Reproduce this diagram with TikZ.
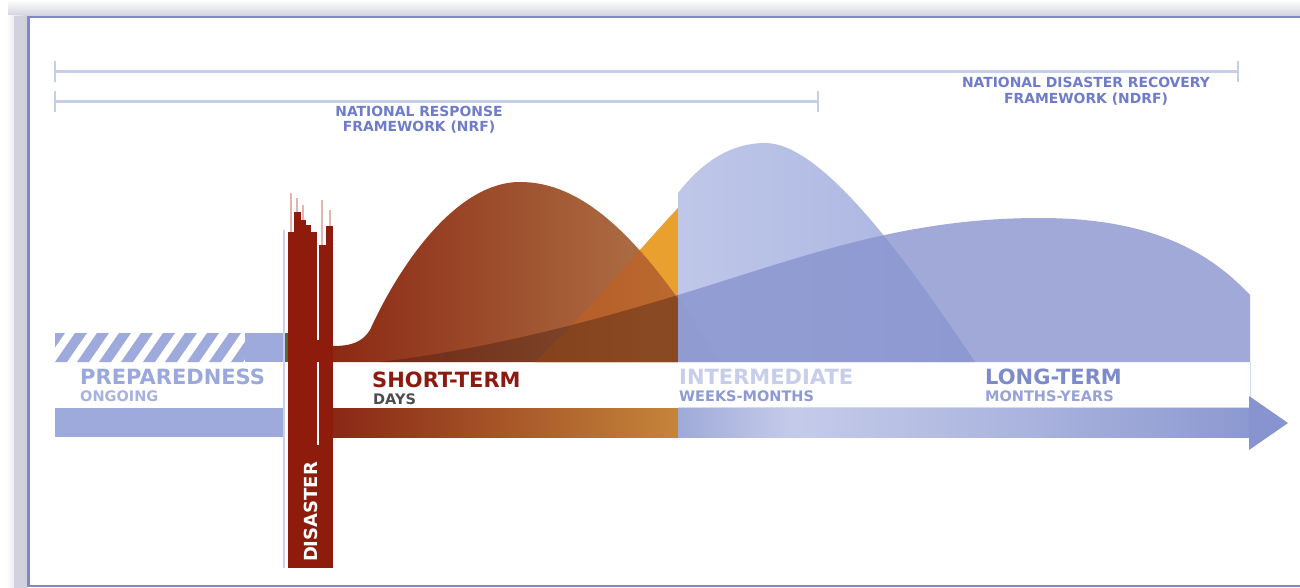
\documentclass[tikz,border=0pt]{standalone}
\usepackage{fontspec}
\setmainfont{DejaVu Sans}
\definecolor{shadowC}{HTML}{D2D2DE}
\definecolor{borderC}{HTML}{8088C8}
\definecolor{brC}{HTML}{C7CEEA}
\definecolor{hdrC}{HTML}{6E7CC9}
\definecolor{prepC}{HTML}{9EAADB}
\definecolor{barC}{HTML}{8E1B0B}
\definecolor{wispC}{HTML}{E6B4AC}
\definecolor{redL}{HTML}{8C2914}
\definecolor{redR}{HTML}{B47E4E}
\definecolor{orangeC}{HTML}{E9A02E}
\definecolor{orangeOv}{HTML}{C8601A}
\definecolor{brownOv}{HTML}{3A1A10}
\definecolor{shaftL}{HTML}{8A2816}
\definecolor{shaftR}{HTML}{C5853A}
\definecolor{intL}{HTML}{BFC7E9}
\definecolor{intR}{HTML}{A8B2DF}
\definecolor{ltC}{RGB}{135,147,206}
\definecolor{blueOv}{HTML}{5A6AB0}
\definecolor{bsA}{HTML}{A0AAD8}
\definecolor{bsB}{HTML}{C4CBEA}
\definecolor{bsM}{HTML}{ABB4DE}
\definecolor{bsC}{HTML}{8C99D1}
\definecolor{headC}{HTML}{8794CF}
\definecolor{bandLine}{HTML}{D5DAF0}
\definecolor{vlineC}{HTML}{C9D1EF}
\definecolor{greenC}{HTML}{506C3A}
\definecolor{prepTxt}{HTML}{9AA8DC}
\definecolor{ongTxt}{HTML}{A7B2E0}
\definecolor{stTxt}{HTML}{8B1A10}
\definecolor{daysTxt}{HTML}{4D4D4D}
\definecolor{intTxt}{HTML}{C7CDEA}
\definecolor{wmTxt}{HTML}{8D9AD3}
\definecolor{ltTxt}{HTML}{7D8BCB}
\definecolor{myTxt}{HTML}{97A3D8}
\pgfdeclarehorizontalshading{blueshaft}{100bp}{color(0bp)=(bsA); color(25bp)=(bsA); color(35bp)=(bsB); color(55bp)=(bsM); color(75bp)=(bsC); color(100bp)=(bsC)}
\tikzset{
  bigtxt/.style={font=\fontsize{21}{23}\selectfont\bfseries, inner sep=0pt, anchor=base west},
  smalltxt/.style={font=\fontsize{14.5}{16}\selectfont\bfseries, inner sep=0pt, anchor=base west},
  hdrtxt/.style={font=\fontsize{13.9}{15}\selectfont\bfseries, inner sep=0pt, anchor=base, text=hdrC},
  bracket/.style={draw=brC, line width=3pt},
  tickmark/.style={draw=brC, line width=1.6pt},
}
\begin{document}
\begin{tikzpicture}[x=1pt,y=-1pt]
\useasboundingbox (0,0) rectangle (1300,588);
\fill[white] (0,0) rectangle (1300,588);
% frame shadow and border
\shade[top color=white, bottom color=shadowC] (8,0) rectangle (1300,16);
\shade[left color=white, right color=shadowC] (6,16) rectangle (27,588);
\fill[shadowC] (14,16) rectangle (27,588);
\draw[borderC, line width=2.5pt] (1300,17) -- (28.5,17) -- (28.5,586) -- (1300,586);

% top brackets
\coordinate (ndrfL) at (55,72);
\coordinate (ndrfR) at (1238,72);
\coordinate (nrfL) at (55,102);
\coordinate (nrfR) at (818,102);
\draw[bracket] (ndrfL) -- (ndrfR);
\draw[bracket] (nrfL) -- (nrfR);
\draw[tickmark] ([yshift=-10pt]ndrfL) -- ([yshift=11pt]ndrfL);
\draw[tickmark] ([yshift=-10pt]ndrfR) -- ([yshift=11pt]ndrfR);
\draw[tickmark] ([yshift=-10pt]nrfL) -- ([yshift=11pt]nrfL);
\draw[tickmark] ([yshift=-10pt]nrfR) -- ([yshift=11pt]nrfR);
\node[hdrtxt] (nrf1) at (419,117) {NATIONAL RESPONSE};
\node[hdrtxt] (nrf2) at (419,132) {FRAMEWORK (NRF)};
\node[hdrtxt] (ndrf1) at (1086,88) {NATIONAL DISASTER RECOVERY};
\node[hdrtxt] (ndrf2) at (1086,104) {FRAMEWORK (NDRF)};

% preparedness stripe (hatched + solid)
\begin{scope}
  \clip (55,333) rectangle (245,362);
  \foreach \i in {-2,...,9} {
    \fill[prepC] ({55+22*\i},362) -- ({67+22*\i},362) -- ({87+22*\i},333) -- ({75+22*\i},333) -- cycle;
  }
\end{scope}
\fill[prepC] (245,333) rectangle (283,362);
\fill[greenC] (285,333) rectangle (288,362);
\fill[prepC] (55,408) rectangle (283,437);

% short-term (brown) region
\begin{scope}
  \clip (333,140) rectangle (678,362);
  \fill[orangeC] (535,362) .. controls (600,300) and (650,235) .. (700,185) -- (700,362) -- cycle;
  \shade[left color=redL, right color=redR]
    (333,362) -- (333,346) .. controls (352,346) and (362,342) .. (370,330)
    .. controls (398,268) and (455,182) .. (520,182)
    .. controls (590,182) and (650,250) .. (720,362) -- cycle;
  \begin{scope}
    \clip (535,362) .. controls (600,300) and (650,235) .. (700,185) -- (700,362) -- cycle;
    \fill[orangeOv, opacity=0.5]
      (333,362) -- (333,346) .. controls (352,346) and (362,342) .. (370,330)
      .. controls (398,268) and (455,182) .. (520,182)
      .. controls (590,182) and (650,250) .. (720,362) -- cycle;
  \end{scope}
  \fill[brownOv, opacity=0.38]
    (380,362) .. controls (480,350) and (580,325) .. (678,295)
    .. controls (800,258) and (900,218) .. (1040,218) -- (1040,362) -- cycle;
\end{scope}
\shade[left color=shaftL, right color=shaftR] (333,408) rectangle (678,437);

% intermediate / long-term (blue) region
\begin{scope}
  \clip (678,100) rectangle (1260,362);
  \shade[left color=intL, right color=intR]
    (678,362) -- (678,193) .. controls (705,158) and (735,143) .. (765,143)
    .. controls (820,143) and (900,250) .. (975,362) -- cycle;
  \fill[blueOv, opacity=0.1]
    (600,362) -- (600,200) .. controls (650,250) .. (720,362) -- cycle;
  \fill[ltC, opacity=0.79]
    (380,362) .. controls (480,350) and (580,325) .. (678,295)
    .. controls (800,258) and (900,218) .. (1040,218)
    .. controls (1160,218) and (1215,258) .. (1250,295) -- (1250,362) -- cycle;
\end{scope}
\draw[bandLine, line width=1pt] (678,407) -- (1250,407) -- (1250,362);
\shade[shading=blueshaft] (678,408) rectangle (1250,437);
\fill[headC] (1249,396) -- (1288,423) -- (1249,450) -- cycle;

% disaster bar
\draw[vlineC, line width=2pt] (283.5,230) -- (283.5,568);
\fill[barC] (288,250) rectangle (333,568);
\fill[barC] (288,232) rectangle (294,260);
\fill[barC] (294,212) rectangle (301,260);
\fill[barC] (301,220) rectangle (306,260);
\fill[barC] (306,225) rectangle (311,260);
\fill[barC] (311,232) rectangle (317,260);
\fill[barC] (319,245) rectangle (326,260);
\fill[barC] (326,226) rectangle (333,260);
\draw[wispC, line width=1.3pt] (291,193) -- (291,232);
\draw[wispC, line width=1.3pt] (303,205) -- (303,220);
\draw[wispC, line width=1.3pt] (322,200) -- (322,245);
\draw[wispC, line width=1.3pt] (330,210) -- (330,226);
\draw[wispC, line width=1.3pt] (297,198) -- (297,212);
\draw[white, line width=1.6pt] (318,240) -- (318,340);
\draw[white, line width=1.6pt] (318,362) -- (318,445);
\node[font=\fontsize{18}{19}\selectfont\bfseries, text=white, rotate=90, inner sep=0pt] (disaster) at (311,512) {DISASTER};

% labels
\node[bigtxt, text=prepTxt] (prep) at (80,384) {PREPAREDNESS};
\node[smalltxt, text=ongTxt] (ong) at (80,401) {ONGOING};
\node[bigtxt, text=stTxt] (st) at (372,387) {SHORT-TERM};
\node[smalltxt, text=daysTxt] (days) at (373,404) {DAYS};
\node[bigtxt, text=intTxt] (inter) at (679,384) {INTERMEDIATE};
\node[smalltxt, text=wmTxt] (wm) at (679,401) {WEEKS-MONTHS};
\node[bigtxt, text=ltTxt] (lt) at (985,384) {LONG-TERM};
\node[smalltxt, text=myTxt] (my) at (985,401) {MONTHS-YEARS};
\end{tikzpicture}
\end{document}
